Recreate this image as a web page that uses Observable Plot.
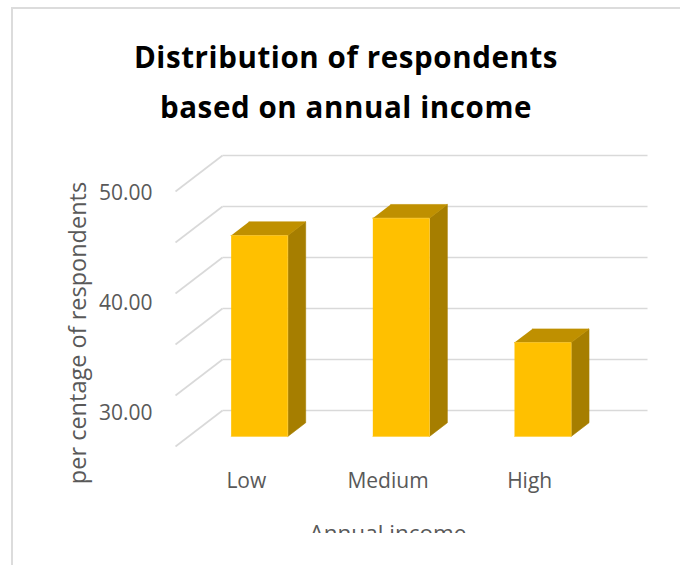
<!DOCTYPE html>
<html>
<head>
<meta charset="utf-8">
<script src="https://cdn.jsdelivr.net/npm/d3@7"></script>
<script src="https://cdn.jsdelivr.net/npm/@observablehq/plot@0.6"></script>
<style>
  html, body { margin: 0; padding: 0; background: #fff; }
  #page { position: relative; width: 680px; height: 565px; overflow: hidden; font-family: "Open Sans", sans-serif; }
  #frameTop { position: absolute; left: 11px; top: 7px; width: 700px; height: 0; border-top: 2px solid #dcdcdc; }
  #frameLeft { position: absolute; left: 11px; top: 7px; width: 0; height: 600px; border-left: 2px solid #dcdcdc; }
  #title { position: absolute; left: 12px; top: 32px; width: 668px; text-align: center;
           font-family: "Open Sans", sans-serif; font-weight: 700; font-size: 29.5px; letter-spacing: 0.6px;
           line-height: 50px; color: #000; }
  #plotWrap { position: absolute; left: 0; top: 140px; width: 680px; height: 393px; overflow: hidden; }
</style>
</head>
<body>
<div id="page">
  <div id="frameTop"></div>
  <div id="frameLeft"></div>
  <div id="title">Distribution of respondents<br>based on annual income</div>
  <div id="plotWrap"></div>
</div>
<script>
// ---- data ----
const categories = ["Low", "Medium", "High"];
const values = [44.7, 46.4, 34.2];
const tickValues = [50, 40, 30];
const gridValues = [25, 30, 35, 40, 45, 50];
const yTitle = "per centage of respondents";
const xTitle = "Annual income";

// ---- scale setup ----
const W = 680, H = 393;
const marginLeft = 175, marginRight = 80, marginTop = 51, marginBottom = 87;
const yMin = 25, yMax = 50;
const kx = (W - marginLeft - marginRight) / categories.length;   // px per category unit
const ky = (H - marginTop - marginBottom) / (yMax - yMin);       // px per value unit
// oblique depth (px for full depth), converted to data units
const dX = 47 / kx, dY = 36 / ky;
const proj = (x, v, d) => ({x: x + d * dX, y: v + d * dY});
const d0 = 0.28, d1 = 0.66;       // bar front / back depth
const b0 = 0.3, b1 = 0.7;         // bar extent within a category slot

// bar faces
const faces = [];
values.forEach((v, i) => {
  const add = (face, pts) => pts.forEach(p => faces.push({id: face + i, face, ...p}));
  add("front", [proj(i + b0, yMin, d0), proj(i + b1, yMin, d0), proj(i + b1, v, d0), proj(i + b0, v, d0)]);
  add("top",   [proj(i + b0, v, d0), proj(i + b1, v, d0), proj(i + b1, v, d1), proj(i + b0, v, d1)]);
  add("side",  [proj(i + b1, yMin, d0), proj(i + b1, yMin, d1), proj(i + b1, v, d1), proj(i + b1, v, d0)]);
});
const faceColor = {front: "#ffc000", top: "#bf9000", side: "#a67e00"};

// tick label perspective spread
const labelY = v => v - ((yMax - v) * 0.8 + 2) / ky;

const grey = "#d9d9d9";
const textColor = "#595959";

const chart = Plot.plot({
  width: W, height: H,
  marginLeft, marginRight, marginTop, marginBottom,
  x: {type: "linear", domain: [0, categories.length], axis: null},
  y: {type: "linear", domain: [yMin, yMax], axis: null},
  style: {fontFamily: "'Open Sans', sans-serif", background: "transparent", overflow: "hidden"},
  marks: [
    // side-wall diagonal gridlines
    Plot.link(gridValues, {x1: 0, y1: d => d, x2: dX, y2: d => d + dY, stroke: grey, strokeWidth: 1.6}),
    // back-wall gridlines
    Plot.link(gridValues, {x1: dX, y1: d => d + dY, x2: categories.length + dX, y2: d => d + dY, stroke: grey, strokeWidth: 1.6}),
    // bars
    ...["side", "top", "front"].map(f =>
      Plot.line(faces.filter(p => p.face === f), {x: "x", y: "y", z: "id", fill: faceColor[f], stroke: f === "front" ? "#ffcc33" : faceColor[f], strokeWidth: 0.6})
    ),
    // y tick labels
    Plot.text(tickValues, {x: 0, y: labelY, text: d => d.toFixed(2), textAnchor: "end", dx: -23, fontSize: 21, fill: textColor}),
    // category labels
    Plot.text(categories, {x: (d, i) => i + 0.5, y: yMin, text: d => d, dy: 35, fontSize: 21, fill: textColor}),
    // y title
    Plot.text([yTitle], {frameAnchor: "left", text: d => d, textAnchor: "middle", lineAnchor: "middle", rotate: -90, dx: -97, dy: 14, fontSize: 23.5, fill: textColor}),
    // x title (clipped at the chart's lower edge, as in the original)
    Plot.text([xTitle], {frameAnchor: "bottom", text: d => d, lineAnchor: "middle", dy: 87, fontSize: 22.5, fill: textColor})
  ]
});
document.getElementById("plotWrap").appendChild(chart);
</script>
</body>
</html>
